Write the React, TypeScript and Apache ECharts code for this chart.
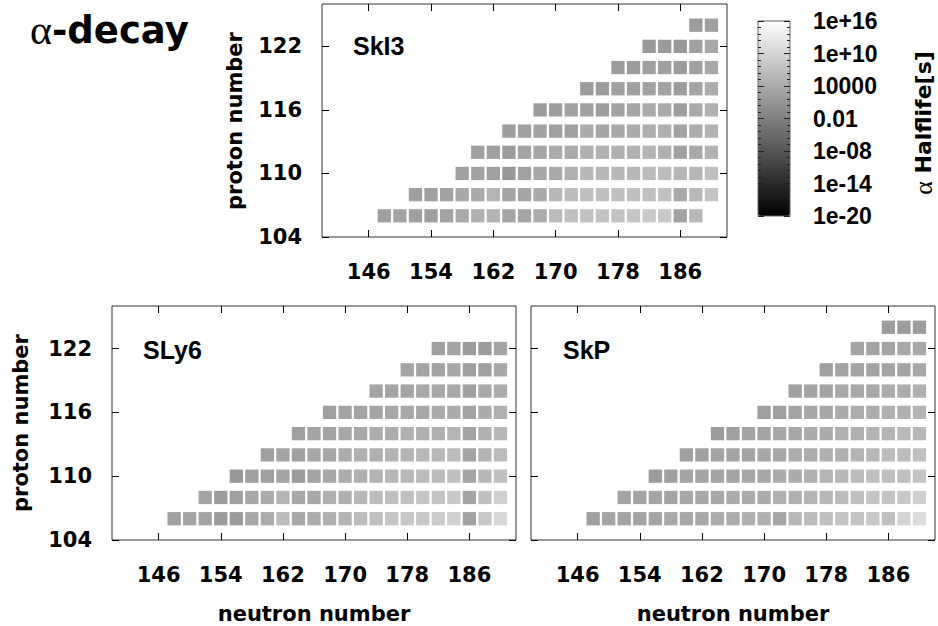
import React, { useEffect, useRef } from "react";
import * as echarts from "echarts";

// ---- axes ----
const neutronTicks = [146, 154, 162, 170, 178, 186];
const protonTicks = [104, 110, 116, 122];
const protonRowsZ = [106, 108, 110, 112, 114, 116, 118, 120, 122, 124];
const colorbarTicks = [-20, -14, -8, -2, 4, 10, 16];
const colorbarLabels = ["1e-20", "1e-14", "1e-08", "0.01", "10000", "1e+10", "1e+16"];
const panelNames = ["SkI3", "SLy6", "SkP"];

// ---- log10 alpha half-life [s], rows from Z=106 upward, cells at even N ----
// SkI3
const ski3Start = [148, 152, 158, 160, 164, 168, 174, 178, 182, 188];
const ski3Z106 = [2.6, 3.2, 2.6, 2.3, 3.2, 4.0, 4.8, 5.4, 3.4, 3.4, 4.3, 6.5, 7.1, 7.4, 7.7, 7.7, 8.0, 8.2, 8.2, 2.9, 6.0];
const ski3Z108 = [2.6, 2.6, 2.9, 3.7, 4.0, 5.4, 3.2, 3.4, 4.0, 6.0, 6.5, 7.1, 7.1, 7.1, 7.1, 7.1, 7.1, 3.7, 6.0, 7.7];
const ski3Z110 = [2.6, 2.9, 2.6, 1.5, 2.9, 3.7, 4.0, 4.8, 6.0, 6.0, 6.0, 6.0, 6.5, 6.5, 5.7, 5.7, 7.1];
const ski3Z112 = [2.6, 2.6, 2.0, 3.2, 3.4, 4.3, 4.0, 4.8, 5.1, 4.8, 5.1, 5.4, 4.8, 2.9, 3.7, 5.1];
const ski3Z114 = [2.3, 2.6, 2.9, 2.6, 2.6, 4.3, 3.4, 3.7, 4.3, 4.6, 4.8, 2.9, 4.3, 5.1];
const ski3Z116 = [2.0, 2.3, 2.9, 2.6, 2.3, 2.9, 3.4, 4.0, 4.0, 2.3, 4.0, 4.8];
const ski3Z118 = [2.0, 2.0, 2.6, 2.6, 2.9, 2.9, 2.0, 3.2, 4.3];
const ski3Z120 = [2.0, 2.0, 2.6, 2.6, 2.0, 2.6, 3.7];
const ski3Z122 = [1.7, 1.7, 1.5, 2.6, 3.7];
const ski3Z124 = [2.0, 2.6];
const ski3Rows = [ski3Z106, ski3Z108, ski3Z110, ski3Z112, ski3Z114, ski3Z116, ski3Z118, ski3Z120, ski3Z122, ski3Z124];

// SLy6
const sly6Start = [148, 152, 156, 160, 164, 168, 174, 178, 182];
const sly6Z106 = [2.6, 3.2, 3.2, 2.0, 2.0, 3.7, 4.3, 6.5, 3.7, 4.3, 4.8, 5.4, 6.5, 7.1, 8.0, 8.2, 8.2, 8.8, 9.4, 2.9, 8.2, 10.5];
const sly6Z108 = [3.2, 2.0, 2.6, 3.7, 4.3, 5.4, 3.7, 3.7, 4.8, 4.8, 6.0, 6.5, 7.1, 7.1, 7.7, 7.7, 8.2, 3.2, 7.1, 9.4];
const sly6Z110 = [1.5, 2.6, 2.6, 3.2, 2.0, 3.2, 3.7, 4.3, 4.8, 5.4, 6.0, 6.0, 6.5, 6.5, 7.1, 3.2, 6.0, 7.1];
const sly6Z112 = [2.6, 3.2, 2.6, 3.7, 3.7, 4.3, 4.8, 4.8, 5.4, 5.4, 6.0, 6.0, 6.5, 3.2, 5.4, 6.5];
const sly6Z114 = [2.6, 3.2, 3.2, 3.7, 3.7, 4.3, 4.3, 4.8, 4.8, 4.8, 5.4, 3.2, 4.8, 6.0];
const sly6Z116 = [2.6, 3.2, 3.2, 3.4, 3.7, 3.7, 3.7, 4.3, 4.3, 3.2, 4.3, 4.8];
const sly6Z118 = [3.2, 3.2, 3.2, 3.7, 3.7, 3.7, 2.6, 3.7, 4.3];
const sly6Z120 = [3.2, 3.2, 3.2, 3.7, 2.6, 2.6, 3.7];
const sly6Z122 = [2.6, 3.2, 2.0, 2.0, 3.2];
const sly6Rows = [sly6Z106, sly6Z108, sly6Z110, sly6Z112, sly6Z114, sly6Z116, sly6Z118, sly6Z120, sly6Z122];

// SkP
const skpStart = [148, 152, 156, 160, 164, 170, 174, 178, 182, 186];
const skpZ106 = [2.6, 3.2, 3.2, 3.2, 3.2, 3.7, 3.7, 3.7, 4.3, 4.3, 4.8, 4.8, 3.4, 6.0, 6.5, 7.1, 7.7, 7.7, 8.2, 7.1, 9.9, 11.1];
const skpZ108 = [3.2, 3.2, 3.2, 3.2, 3.7, 3.7, 3.7, 4.3, 4.3, 4.3, 4.8, 4.8, 5.4, 6.0, 6.5, 7.1, 7.7, 7.7, 8.2, 9.4];
const skpZ110 = [2.0, 2.6, 3.2, 3.2, 3.2, 3.2, 3.7, 3.7, 4.3, 4.3, 4.8, 5.4, 6.0, 6.5, 7.1, 7.1, 7.1, 7.7];
const skpZ112 = [2.6, 2.6, 3.2, 3.2, 3.2, 3.7, 3.7, 4.3, 4.3, 4.8, 4.8, 5.4, 6.0, 6.5, 6.5, 7.1];
const skpZ114 = [2.0, 2.6, 3.2, 3.2, 3.7, 3.7, 4.3, 4.3, 4.8, 4.8, 5.4, 5.4, 6.0, 6.0];
const skpZ116 = [2.6, 2.6, 3.2, 3.7, 3.7, 4.3, 4.3, 4.3, 4.8, 4.8, 5.4];
const skpZ118 = [2.6, 3.2, 3.2, 3.7, 3.7, 3.7, 4.3, 4.3, 4.8];
const skpZ120 = [2.6, 3.2, 3.2, 3.2, 3.2, 3.2, 3.7];
const skpZ122 = [3.2, 3.2, 3.2, 3.7, 3.7];
const skpZ124 = [2.0, 2.0, 2.0];
const skpRows = [skpZ106, skpZ108, skpZ110, skpZ112, skpZ114, skpZ116, skpZ118, skpZ120, skpZ122, skpZ124];

function buildCells(starts: number[], rows: number[][]) {
  const out: number[][] = [];
  rows.forEach((row, r) => {
    row.forEach((v, k) => {
      out.push([starts[r] + 2 * k, protonRowsZ[r], v]);
    });
  });
  return out;
}

const FONT = "DejaVu Sans";
const grids = [
  { left: 322, top: 4, width: 405, height: 233 },
  { left: 112, top: 306, width: 404, height: 234 },
  { left: 531, top: 306, width: 404, height: 234 },
];
const showYLabels = [true, true, false];

export default function App() {
  const ref = useRef<HTMLDivElement>(null);
  useEffect(() => {
    if (!ref.current) return;
    const chart = echarts.init(ref.current, undefined, { renderer: "svg" });

    const tickStyle = { inside: true, length: 7, lineStyle: { color: "#000", width: 1 } };
    const labelStyle = { color: "#000", fontFamily: FONT, fontWeight: "bold" as const, fontSize: 21 };

    const xAxes: any[] = [];
    const yAxes: any[] = [];
    grids.forEach((_, i) => {
      xAxes.push({
        gridIndex: i, type: "value", min: 140, max: 192, position: "bottom", z: 5,
        axisLine: { show: false }, splitLine: { show: false },
        axisTick: { ...tickStyle, customValues: neutronTicks },
        axisLabel: { ...labelStyle, margin: 24, customValues: neutronTicks },
      });
      xAxes.push({
        gridIndex: i, type: "value", min: 140, max: 192, position: "top", z: 5,
        axisLine: { show: false }, splitLine: { show: false },
        axisTick: { ...tickStyle, customValues: neutronTicks },
        axisLabel: { show: false, customValues: neutronTicks },
      });
      yAxes.push({
        gridIndex: i, type: "value", min: 104, max: 126, position: "left", z: 5,
        axisLine: { show: false }, splitLine: { show: false },
        axisTick: { ...tickStyle, customValues: protonTicks },
        axisLabel: { ...labelStyle, show: showYLabels[i], margin: 20, customValues: protonTicks },
      });
      yAxes.push({
        gridIndex: i, type: "value", min: 104, max: 126, position: "right", z: 5,
        axisLine: { show: false }, splitLine: { show: false },
        axisTick: { ...tickStyle, customValues: protonTicks },
        axisLabel: { show: false, customValues: protonTicks },
      });
    });
    // colorbar axes
    xAxes.push({ gridIndex: 3, type: "value", min: 0, max: 1, show: false });
    yAxes.push({
      gridIndex: 3, type: "value", min: -20, max: 16, interval: 6, position: "left", z: 10,
      axisLine: { show: false }, splitLine: { show: false },
      axisTick: { inside: true, length: 6, lineStyle: { color: "#222", width: 1 } },
      minorTick: { show: true, splitNumber: 5, length: 3, lineStyle: { color: "#222", width: 1 } },
      axisLabel: { show: false },
    });
    yAxes.push({
      gridIndex: 3, type: "value", min: -20, max: 16, interval: 6, position: "right", z: 10,
      axisLine: { show: false }, splitLine: { show: false },
      axisTick: { inside: true, length: 6, lineStyle: { color: "#222", width: 1 } },
      minorTick: { show: true, splitNumber: 5, length: 3, lineStyle: { color: "#222", width: 1 } },
      axisLabel: {
        color: "#000", fontFamily: "Liberation Sans", fontWeight: "bold", fontSize: 23, margin: 23,
        formatter: (v: number) => colorbarLabels[colorbarTicks.indexOf(v)] ?? "",
      },
    });

    const datasets = [buildCells(ski3Start, ski3Rows), buildCells(sly6Start, sly6Rows), buildCells(skpStart, skpRows)];

    const series = datasets.map((d, i) => ({
      type: "scatter",
      name: panelNames[i],
      xAxisIndex: 2 * i,
      yAxisIndex: 2 * i,
      symbol: "rect",
      symbolSize: 13.3,
      data: d,
      itemStyle: { opacity: 1 },
      emphasis: { disabled: true },
    }));

    const panelLabelPos = [
      [353, 46],
      [143, 349.5],
      [563, 349.5],
    ];

    chart.setOption({
      animation: false,
      backgroundColor: "#fff",
      grid: [
        ...grids.map((g) => ({ ...g, show: true, borderColor: "#333", borderWidth: 1, backgroundColor: "transparent" })),
        { left: 758, top: 21, width: 32, height: 195, show: true, borderColor: "#666", borderWidth: 1, backgroundColor: "transparent", z: 10 },
      ],
      xAxis: xAxes,
      yAxis: yAxes,
      visualMap: {
        type: "continuous",
        min: -20, max: 16, dimension: 2, seriesIndex: [0, 1, 2],
        inRange: { color: ["#000000", "#ffffff"] },
        orient: "vertical", left: 758, top: 21, itemWidth: 32, itemHeight: 195,
        padding: 0, calculable: false, hoverLink: false, z: 2,
      },
      series,
      graphic: [
        {
          type: "text", x: 30, y: 30,
          style: {
            text: "{a|α}{b|-decay}", align: "left", verticalAlign: "middle", textAlign: "left", textVerticalAlign: "middle",
            rich: {
              a: { fontFamily: "Liberation Serif", fontSize: 42, fill: "#000", fontWeight: "normal" },
              b: { fontFamily: FONT, fontSize: 37, fontWeight: "bold", fill: "#000" },
            },
          },
        },
        ...panelNames.map((n, i) => ({
          type: "text", x: panelLabelPos[i][0], y: panelLabelPos[i][1],
          style: {
            text: n, fill: "#000", font: 'bold 25px "Liberation Sans"',
            align: "left", verticalAlign: "middle", textAlign: "left", textVerticalAlign: "middle",
          },
        })),
        {
          type: "text", x: 234.5, y: 121, rotation: Math.PI / 2,
          style: { text: "proton number", fill: "#000", font: `bold 21px "${FONT}"`, align: "center", verticalAlign: "middle", textAlign: "center", textVerticalAlign: "middle" },
        },
        {
          type: "text", x: 21, y: 423, rotation: Math.PI / 2,
          style: { text: "proton number", fill: "#000", font: `bold 21px "${FONT}"`, align: "center", verticalAlign: "middle", textAlign: "center", textVerticalAlign: "middle" },
        },
        {
          type: "text", x: 314, y: 614,
          style: { text: "neutron number", fill: "#000", font: `bold 21px "${FONT}"`, align: "center", verticalAlign: "middle", textAlign: "center", textVerticalAlign: "middle" },
        },
        {
          type: "text", x: 733, y: 614,
          style: { text: "neutron number", fill: "#000", font: `bold 21px "${FONT}"`, align: "center", verticalAlign: "middle", textAlign: "center", textVerticalAlign: "middle" },
        },
        {
          type: "text", x: 923, y: 123, rotation: Math.PI / 2,
          style: {
            text: "{a|α}{b| Halflife[s]}", align: "center", verticalAlign: "middle", textAlign: "center", textVerticalAlign: "middle",
            rich: {
              a: { fontFamily: "Liberation Serif", fontSize: 26, fill: "#000" },
              b: { fontFamily: FONT, fontSize: 22, fontWeight: "bold", fill: "#000" },
            },
          },
        },
      ],
    });
    return () => chart.dispose();
  }, []);
  return <div ref={ref} style={{ position: "absolute", left: 0, top: 0, width: 938, height: 626 }} />;
}
